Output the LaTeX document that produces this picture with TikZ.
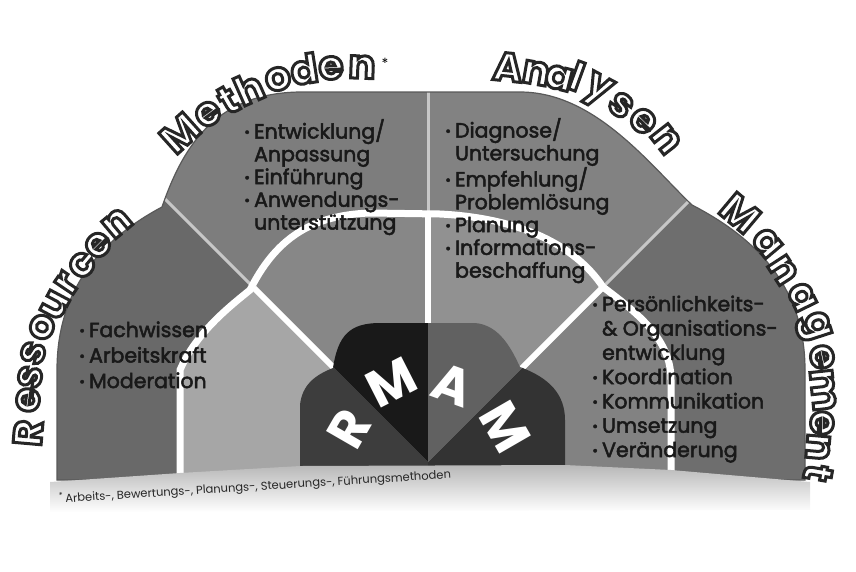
\documentclass[tikz,border=0pt]{standalone}
\usepackage{fontspec}
\setmainfont{Poppins}

\newcommand{\aussenform}{(57,480) -- (57,370) .. controls (57,290) and (100,240) .. (162,207) .. controls (185,140) and (220,93) .. (300,92) -- (520,92) .. controls (595,92) and (650,165) .. (692,205) .. controls (760,240) and (805,290) .. (805,370) -- (805,480) -- cycle}
\newcommand{\innenlinie}{(180,480) -- (180,370) .. controls (195,335) and (225,310) .. (250,290) .. controls (275,240) and (310,215) .. (370,213) -- (440,214) .. controls (520,218) and (575,245) .. (603,287) .. controls (640,315) and (671,340) .. (671,380) -- (671,480)}
\newcommand{\kernform}{(300,466) -- (300,405) .. controls (302,385) and (315,375) .. (333,368) .. controls (338,335) and (350,323) .. (380,323) -- (475,323) .. controls (500,325) and (512,350) .. (520,367) .. controls (550,378) and (565,395) .. (565,420) -- (565,466) -- cycle}
\newcommand{\sektoren}[4]{%
  \fill[#1] (C) -- (428,600) -- (-100,600) -- (pl) -- cycle;
  \fill[#2] (C) -- (pl) -- (po) -- cycle;
  \fill[#3] (C) -- (po) -- (pr) -- cycle;
  \fill[#4] (C) -- (pr) -- (956,600) -- (428,600) -- cycle;}
\newcommand{\pkt}{\raisebox{1.5pt}{\scalebox{0.7}{\textbullet}}}
% hollow letters: fill white, stroke dark
\newcommand{\hohl}[1]{\special{pdf:literal direct 2 Tr 3 w 0.15 G 1 g}#1\special{pdf:literal direct 0 Tr}}
% slightly heavier text
\newcommand{\kraeftig}[1]{\special{pdf:literal direct 2 Tr 0.5 w 0.1 G}#1\special{pdf:literal direct 0 Tr}}

\tikzset{
  bubble/.style={font=\fontsize{40}{40}\selectfont\bfseries, text=white, inner sep=0pt},
  kernbst/.style={font=\fontsize{52}{52}\selectfont\bfseries, text=white, inner sep=0pt},
  liste/.style={font=\fontsize{20.5}{#1}\selectfont, text=black!90, inner sep=0pt, anchor=north west, align=left},
  liste/.default=23,
  teiler/.style={black!22, line width=3pt},
  band/.style={white, line width=7pt},
  fussnote/.style={font=\fontsize{11.5}{12}\selectfont, text=black!85, inner sep=0pt}
}

\begin{document}
\begin{tikzpicture}[x=1pt,y=-1pt]
  \useasboundingbox (0,0) rectangle (856,571);
  \coordinate (C) at (428,462);
  \coordinate (pl) at (-100,-66);
  \coordinate (po) at (428,-66);
  \coordinate (pr) at (956,-66);
  \coordinate (il) at (254,288);
  \coordinate (io) at (428,214);
  \coordinate (ir) at (602,288);

  \begin{scope}
    \clip \aussenform;
    \sektoren{black!59}{black!51}{black!49}{black!57}
    \foreach \z in {pl,po,pr}
      \draw[teiler] (C) -- (\z);
    \begin{scope}
      \clip \innenlinie -- cycle;
      \sektoren{black!35}{black!47}{black!43}{black!49}
    \end{scope}
    \draw[band] \innenlinie;
    \foreach \z in {il,io,ir}
      \draw[band, line width=6pt] (C) -- (\z);
  \end{scope}
  \draw[black!65, line width=1.2pt] \aussenform;

  \begin{scope}
    \clip \kernform;
    \sektoren{black!76}{black!90}{black!62}{black!80}
  \end{scope}

  \shade[top color=black!28, bottom color=white] (50,482) -- (180,473) -- (300,466) -- (565,465) -- (671,470) -- (810,482) -- (810,510) -- (50,512) -- cycle;

  \foreach \ch/\x/\y/\r [count=\i] in {R/349/429/60, M/391/382/27, A/453/385/-20, M/505/427/-60}
    \node[kernbst, rotate=\r] (kern\i) at (\x,\y) {\ch};

  \foreach \ch/\x/\y/\r [count=\i] in {R/28/433/85, e/28/400/82, s/30/377/78, s/33/353/73, o/42/327/68, u/55/305/62, r/67/283/56, c/82/265/50, e/98/245/45, n/117/223/40}
    \node[bubble, rotate=\r] (res\i) at (\x,\y) {\hohl{\ch}};
  \foreach \ch/\x/\y/\r [count=\i] in {M/180/133/42, e/208/114/36, t/228/100/30, h/249/88/24, o/278/79/16, d/304/69/9, e/331/68/3, n/362/67/-2}
    \node[bubble, rotate=\r] (met\i) at (\x,\y) {\hohl{\ch}};
  \node[font=\fontsize{14}{14}\selectfont] (stern) at (385,63) {*};
  \foreach \ch/\x/\y/\r [count=\i] in {A/508/67/-6, n/536/73/-10, a/559/78/-14, l/577/76/-20, y/597/91/-28, s/621/105/-36, e/643/121/-44, n/666/139/-52}
    \node[bubble, rotate=\r] (ana\i) at (\x,\y) {\hohl{\ch}};
  \foreach \ch/\x/\y/\r [count=\i] in {M/740/213/-40, a/767/243/-50, n/783/270/-57, a/802/297/-64, g/813/327/-72, e/822/357/-78, m/823/390/-84, e/822/423/-90, n/818/447/-95, t/818/473/-100}
    \node[bubble, rotate=\r] (man\i) at (\x,\y) {\hohl{\ch}};

  \node[liste=25.5] (lres) at (79,319) {\kraeftig{\begin{tabular}{@{}l@{\hspace{4pt}}l@{}}
    \pkt & Fachwissen\\ \pkt & Arbeitskraft\\ \pkt & Moderation\end{tabular}}};
  \node[liste=22.75] (lmet) at (244,119) {\kraeftig{\begin{tabular}{@{}l@{\hspace{4pt}}l@{}}
    \pkt & Entwicklung/\\ & Anpassung\\ \pkt & Einf\"uhrung\\ \pkt & Anwendungs-\\ & unterst\"utzung\end{tabular}}};
  \node[liste=22.8] (lana) at (445,118) {\kraeftig{\begin{tabular}{@{}l@{\hspace{4pt}}l@{}}
    \pkt & Diagnose/\\ & Untersuchung\\ \pkt & Empfehlung/\\ & Probleml\"osung\\ \pkt & Planung\\ \pkt & Informations-\\ & beschaffung\end{tabular}}};
  \node[liste=24.3] (lman) at (592,294) {\kraeftig{\begin{tabular}{@{}l@{\hspace{4pt}}l@{}}
    \pkt & Pers\"onlichkeits-\\ & \& Organisations-\\ & entwicklung\\ \pkt & Koordination\\ \pkt & Kommunikation\\ \pkt & Umsetzung\\ \pkt & Ver\"anderung\end{tabular}}};

  \node[fussnote, rotate=3.6] (fn) at (255,487) {\textsuperscript{*}\,Arbeits-, Bewertungs-, Planungs-, Steuerungs-, F\"uhrungsmethoden};
\end{tikzpicture}
\end{document}
